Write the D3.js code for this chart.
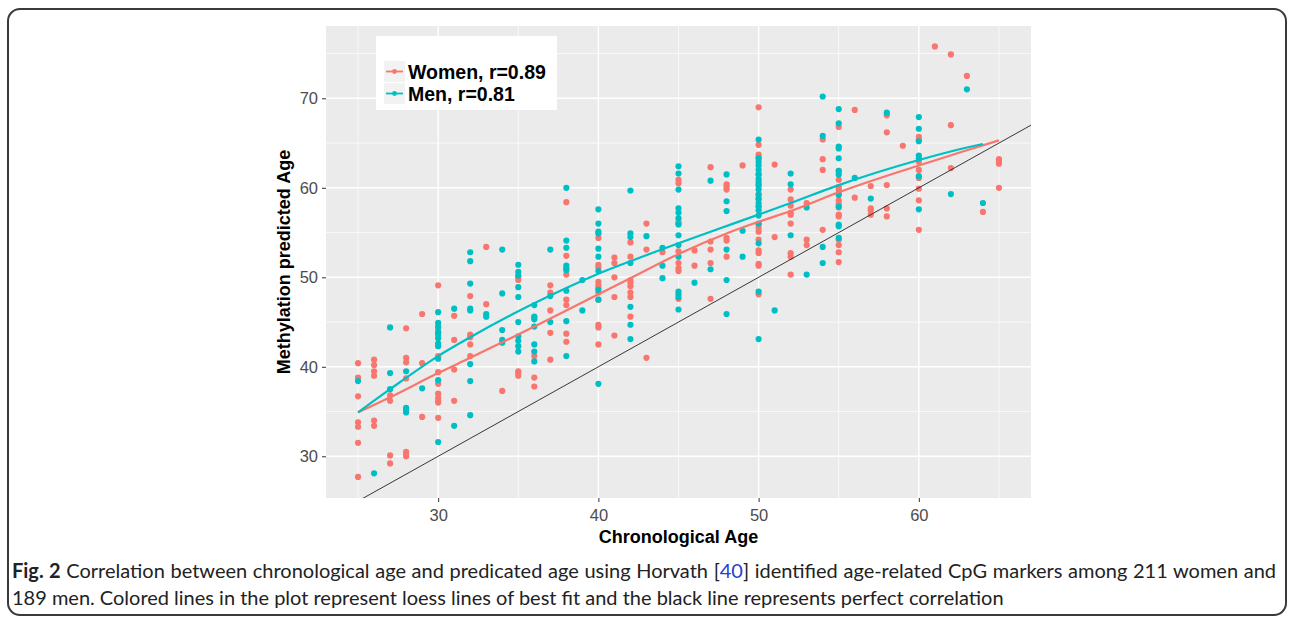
<!DOCTYPE html>
<html>
<head>
<meta charset="utf-8">
<script src="https://cdn.jsdelivr.net/npm/d3@7"></script>
<style>
  body { margin: 0; background: #fff; }
  svg { display: block; }
</style>
</head>
<body>
<div id="chart"></div>
<script>
// points, grouped by chronological age: [age, [predicted ages]]
var women_cols = [
  [25, [40.4, 38.8, 36.7, 33.8, 33.3, 31.5, 27.7]],
  [26, [40.8, 40.2, 39.5, 39.0, 34.0, 33.4]],
  [27, [36.8, 36.2, 30.1, 29.2]],
  [28, [44.3, 41.0, 40.5, 38.7, 30.5, 30.2, 30.0]],
  [29, [45.9, 40.4, 34.4]],
  [30, [49.1, 44.3, 43.8, 41.2, 39.4, 38.1, 37.0, 36.5, 36.2, 36.0, 34.3]],
  [31, [45.7, 43.0, 39.7, 36.2]],
  [32, [47.9, 43.6, 43.3, 42.5, 41.2]],
  [33, [53.4, 47.0]],
  [34, [37.3]],
  [35, [50.0, 49.7, 39.5, 39.3, 39.0]],
  [36, [45.5, 41.2, 38.8, 37.8]],
  [37, [49.1, 48.3, 46.3, 43.8, 40.8]],
  [38, [58.4, 52.4, 50.3, 47.5, 46.9, 43.7, 42.8]],
  [40, [54.4, 51.4, 51.1, 49.5, 49.1, 48.8, 48.3, 47.5, 44.7, 44.4, 42.5]],
  [41, [52.2, 51.6, 50.0, 47.8, 43.5]],
  [42, [53.9, 52.3, 49.7, 49.4, 49.0, 48.3, 47.8, 45.6]],
  [43, [56.0, 53.1, 41.0]],
  [44, [52.8]],
  [45, [60.9, 60.5, 56.2, 56.0, 52.9, 51.6, 51.0, 50.7, 47.6]],
  [46, [53.0, 51.3]],
  [47, [62.3, 54.0, 53.1, 51.6, 47.6]],
  [48, [60.4, 60.1, 59.8, 54.4, 54.1, 52.3]],
  [49, [62.5]],
  [50, [69.0, 64.8, 63.7, 63.4, 61.5, 59.3, 58.7, 57.9, 55.9, 55.5, 55.1, 54.2, 53.0, 52.7, 51.5, 51.3, 48.1]],
  [51, [62.6, 54.5]],
  [52, [59.8, 58.7, 58.0, 57.2, 57.0, 56.0, 52.7, 52.3, 50.3]],
  [53, [58.3, 54.2, 53.6]],
  [54, [65.4, 63.2, 62.0, 55.3]],
  [55, [66.8, 61.9, 60.9, 60.1, 59.8, 59.4, 58.6, 58.2, 57.8, 57.0, 56.8, 54.2, 53.6, 52.8, 51.7]],
  [56, [68.7, 58.9]],
  [57, [60.2, 57.7, 57.5, 57.0]],
  [58, [68.1, 66.2, 60.3, 57.7, 56.8]],
  [59, [64.7]],
  [60, [65.7, 65.4, 62.9, 62.0, 61.1, 59.9, 58.6, 55.3]],
  [61, [75.8]],
  [62, [74.9, 67.0, 62.2]],
  [63, [72.5]],
  [64, [57.3]],
  [65, [63.2, 62.9, 62.7, 60.0]]
];

var men_cols = [
  [25, [38.4]],
  [26, [28.1]],
  [27, [44.4, 39.3, 37.5]],
  [28, [39.5, 35.4, 35.1, 34.9]],
  [29, [37.6]],
  [30, [46.1, 44.9, 44.5, 43.9, 43.6, 43.2, 42.6, 42.3, 40.9, 38.5, 31.6]],
  [31, [46.5, 33.4]],
  [32, [52.8, 51.8, 49.3, 46.5, 46.3, 40.3, 38.4, 34.6]],
  [33, [45.9, 45.6]],
  [34, [53.1, 48.2, 44.1, 43.0, 42.7]],
  [35, [51.4, 50.6, 50.2, 48.9, 47.8, 45.0, 43.4, 42.9, 42.3, 41.7]],
  [36, [46.9, 45.6, 45.3, 44.5, 42.5, 41.7, 40.6]],
  [37, [53.1, 47.9, 45.0]],
  [38, [60.0, 54.1, 53.3, 51.3, 51.0, 50.8, 48.5, 45.1, 41.2]],
  [39, [49.7, 46.3]],
  [40, [57.6, 56.0, 55.1, 54.9, 53.2, 52.3, 50.7, 48.6, 47.5, 38.1]],
  [42, [59.7, 54.9, 54.5, 51.6, 46.7, 44.7, 43.1]],
  [43, [54.6]],
  [44, [53.3, 51.3, 49.9]],
  [45, [62.4, 61.6, 59.8, 57.7, 57.2, 56.6, 55.9, 54.7, 53.6, 52.3, 48.4, 48.1, 47.8, 46.4]],
  [46, [49.4]],
  [47, [60.8, 50.9]],
  [48, [61.5, 58.5, 57.4, 53.1, 49.7, 45.9]],
  [49, [55.2, 52.3]],
  [50, [65.4, 63.3, 62.9, 62.5, 62.0, 61.5, 61.0, 60.7, 60.4, 60.2, 59.8, 59.2, 58.8, 58.3, 57.9, 57.5, 56.9, 56.0, 53.8, 48.4, 43.1]],
  [51, [46.3]],
  [52, [61.6, 60.4, 54.7]],
  [53, [57.8, 50.3]],
  [54, [70.2, 65.8, 53.4, 51.6]],
  [55, [68.8, 67.2, 64.6, 64.4, 63.3, 61.9, 61.5, 59.2, 57.9, 55.9, 55.7, 54.4]],
  [56, [61.1]],
  [57, [58.8]],
  [58, [68.4]],
  [60, [67.9, 66.6, 65.2, 63.6, 63.3, 61.3, 57.6]],
  [62, [59.3]],
  [63, [71.0]],
  [64, [58.3]]
];

// loess curves
var women_fit_age = [25, 27, 30, 32, 35, 38, 40, 42, 45, 48, 50, 52, 55, 60, 63, 65];
var women_fit_val = [34.9, 36.6, 39.3, 41.0, 43.6, 46.3, 48.1, 49.9, 52.6, 54.9, 56.2, 57.4, 59.5, 62.5, 64.2, 65.3];
var men_fit_age = [25, 27, 30, 32, 35, 38, 40, 42, 45, 47, 50, 52, 55, 60, 63, 64];
var men_fit_val = [34.9, 37.5, 41.2, 43.3, 46.2, 48.8, 50.4, 51.8, 53.8, 55.1, 57.0, 58.3, 60.3, 63.1, 64.5, 64.9];

var x_ticks = [30, 40, 50, 60];
var y_ticks = [30, 40, 50, 60, 70];
var x_minor = [25, 35, 45, 55, 65];
var y_minor = [35, 45, 55, 65, 75];

var legend_labels = ["Women, r=0.89", "Men, r=0.81"];
var group_colors = ["#F8766D", "#00BFC4"];

var caption_1 = ["Fig. 2", " Correlation between chronological age and predicated age using Horvath [", "40", "] identified age-related CpG markers among 211 women and"];
var caption_2 = "189 men. Colored lines in the plot represent loess lines of best fit and the black line represents perfect correlation";

var W = 1293, H = 617;
var panel = { left: 326, right: 1031, top: 26, bottom: 498 };
var axis_font = "'Liberation Sans', Arial, Helvetica, sans-serif";

var svg = d3.select("#chart").append("svg").attr("width", W).attr("height", H);

// rounded frame round the whole figure
svg.append("rect").attr("x", 8).attr("y", 9).attr("width", 1278).attr("height", 606)
   .attr("rx", 12).attr("fill", "none").attr("stroke", "#3a3a3a").attr("stroke-width", 2);

var x = d3.scaleLinear().domain([23, 67]).range([panel.left, panel.right]);
var y = d3.scaleLinear().domain([25.34, 78.08]).range([panel.bottom, panel.top]);

svg.append("defs").append("clipPath").attr("id", "panel_clip")
   .append("rect").attr("x", panel.left).attr("y", panel.top)
   .attr("width", panel.right - panel.left).attr("height", panel.bottom - panel.top);

svg.append("rect").attr("x", panel.left).attr("y", panel.top)
   .attr("width", panel.right - panel.left).attr("height", panel.bottom - panel.top)
   .attr("fill", "#EBEBEB");

var grid = svg.append("g").attr("class", "grid");
grid.selectAll("line.xmin").data(x_minor).enter().append("line")
   .attr("x1", function(d) { return x(d); }).attr("x2", function(d) { return x(d); })
   .attr("y1", panel.top).attr("y2", panel.bottom)
   .attr("stroke", "#fff").attr("stroke-width", 0.7);
grid.selectAll("line.ymin").data(y_minor).enter().append("line")
   .attr("y1", function(d) { return y(d); }).attr("y2", function(d) { return y(d); })
   .attr("x1", panel.left).attr("x2", panel.right)
   .attr("stroke", "#fff").attr("stroke-width", 0.7);
grid.selectAll("line.xmaj").data(x_ticks).enter().append("line")
   .attr("x1", function(d) { return x(d); }).attr("x2", function(d) { return x(d); })
   .attr("y1", panel.top).attr("y2", panel.bottom)
   .attr("stroke", "#fff").attr("stroke-width", 1.4);
grid.selectAll("line.ymaj").data(y_ticks).enter().append("line")
   .attr("y1", function(d) { return y(d); }).attr("y2", function(d) { return y(d); })
   .attr("x1", panel.left).attr("x2", panel.right)
   .attr("stroke", "#fff").attr("stroke-width", 1.4);

// axes
var x_axis = svg.append("g").attr("transform", "translate(0," + panel.bottom + ")")
   .call(d3.axisBottom(x).tickValues(x_ticks).tickSize(4).tickPadding(6));
var y_axis = svg.append("g").attr("transform", "translate(" + panel.left + ",0)")
   .call(d3.axisLeft(y).tickValues(y_ticks).tickSize(4).tickPadding(5));
[x_axis, y_axis].forEach(function(a) {
   a.select(".domain").remove();
   a.selectAll(".tick line").attr("stroke", "#333");
   a.selectAll(".tick text").attr("fill", "#4D4D4D")
      .style("font-family", axis_font).style("font-size", "16.5px");
});
x_axis.selectAll(".tick text").attr("dy", "0.75em").attr("y", 11);
y_axis.selectAll(".tick text").attr("x", -8);

svg.append("text").attr("x", (panel.left + panel.right) / 2).attr("y", 543)
   .attr("text-anchor", "middle").style("font-family", axis_font)
   .style("font-size", "18px").style("font-weight", "bold").text("Chronological Age");
svg.append("text").attr("transform", "translate(290," + (panel.top + panel.bottom) / 2 + ") rotate(-90)")
   .attr("text-anchor", "middle").style("font-family", axis_font)
   .style("font-size", "18px").style("font-weight", "bold").text("Methylation predicted Age");

function flatten(cols) {
   var out = [];
   cols.forEach(function(c) { c[1].forEach(function(v) { out.push({ age: c[0], pred: v }); }); });
   return out;
}

var plot = svg.append("g").attr("clip-path", "url(#panel_clip)");
plot.selectAll("circle.women").data(flatten(women_cols)).enter().append("circle")
   .attr("class", "women").attr("cx", function(d) { return x(d.age); }).attr("cy", function(d) { return y(d.pred); })
   .attr("r", 3.1).attr("fill", group_colors[0]);
plot.selectAll("circle.men").data(flatten(men_cols)).enter().append("circle")
   .attr("class", "men").attr("cx", function(d) { return x(d.age); }).attr("cy", function(d) { return y(d.pred); })
   .attr("r", 3.1).attr("fill", group_colors[1]);

var fit_line = d3.line().curve(d3.curveMonotoneX)
   .x(function(d) { return x(d[0]); }).y(function(d) { return y(d[1]); });
plot.append("path").datum(d3.zip(women_fit_age, women_fit_val)).attr("d", fit_line)
   .attr("fill", "none").attr("stroke", group_colors[0]).attr("stroke-width", 2.2);
plot.append("path").datum(d3.zip(men_fit_age, men_fit_val)).attr("d", fit_line)
   .attr("fill", "none").attr("stroke", group_colors[1]).attr("stroke-width", 2.2);

// perfect correlation line y = x
plot.append("line").attr("x1", x(23)).attr("y1", y(23)).attr("x2", x(67)).attr("y2", y(67))
   .attr("stroke", "#222").attr("stroke-width", 0.9);

// legend
var legend = svg.append("g").attr("transform", "translate(376,36)");
legend.append("rect").attr("width", 181).attr("height", 74).attr("fill", "#fff");
legend_labels.forEach(function(lab, i) {
   var g = legend.append("g").attr("transform", "translate(8," + (25 + i * 22) + ")");
   g.append("rect").attr("width", 21).attr("height", 21).attr("fill", "#F2F2F2");
   g.append("line").attr("x1", 2).attr("x2", 19).attr("y1", 10.5).attr("y2", 10.5)
      .attr("stroke", group_colors[i]).attr("stroke-width", 1.8);
   g.append("circle").attr("cx", 10.5).attr("cy", 10.5).attr("r", 2.4).attr("fill", group_colors[i]);
   g.append("text").attr("x", 24).attr("y", 17.5).style("font-family", axis_font)
      .style("font-size", "19.5px").style("font-weight", "bold").attr("fill", "#000").text(lab);
});

// caption: size set from the second line, first line stretched a little to the full width
var cap_font = "Lato, 'Open Sans', sans-serif";
var cap1 = svg.append("text").attr("x", 12).attr("y", 578).style("font-family", cap_font)
   .style("font-size", "17px").attr("fill", "#222");
caption_1.forEach(function(s, i) {
   var t = cap1.append("tspan").text(s);
   if (i == 0) t.style("font-weight", "bold");
   if (i == 2) t.attr("fill", "#1f3fd8");
});
var cap2 = svg.append("text").attr("x", 12).attr("y", 605).style("font-family", cap_font)
   .style("font-size", "17px").attr("fill", "#222").text(caption_2);
var fs = 17 * 992 / cap2.node().getComputedTextLength();
cap1.style("font-size", fs + "px");
cap2.style("font-size", fs + "px");
var gaps = caption_1.join("").split(" ").length - 1;
var extra = Math.max(0, (1264 - cap1.node().getComputedTextLength()) / gaps);
cap1.style("word-spacing", extra + "px");
</script>
</body>
</html>
